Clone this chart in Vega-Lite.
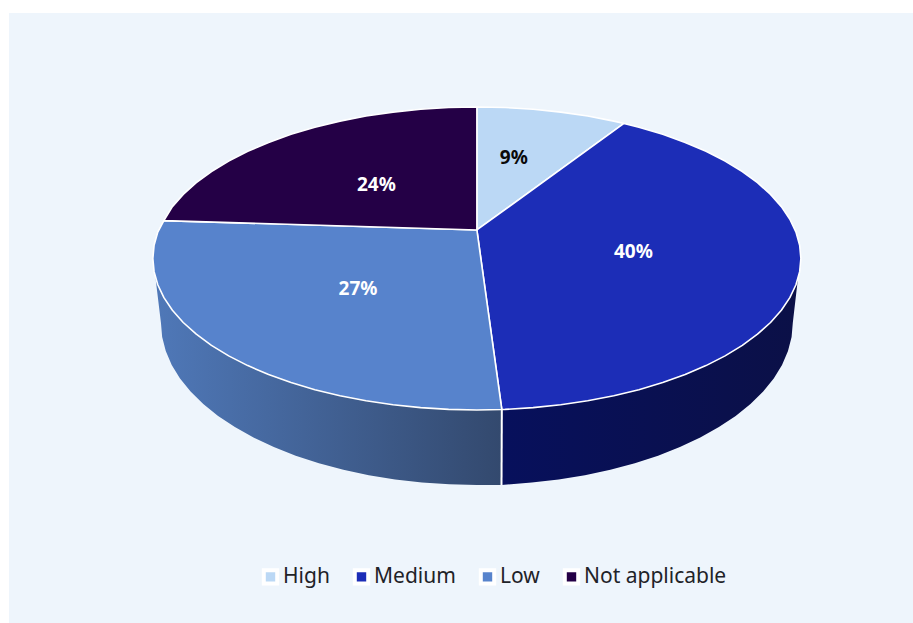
{
  "$schema": "https://vega.github.io/schema/vega-lite/v6.json",
  "width": 904,
  "height": 610,
  "autosize": "none",
  "padding": {"left": 9, "top": 13, "right": 0, "bottom": 0},
  "background": "#ffffff",
  "config": {"view": {"fill": "#eef5fc", "stroke": null}},
  "datasets": {
    "face": [
      {"slice":"High","seq":0,"x":0,"y":18.8},{"slice":"High","seq":1,"x":0,"y":100},{"slice":"High","seq":2,"x":8.72,"y":99.62},{"slice":"High","seq":3,"x":17.36,"y":98.48},{"slice":"High","seq":4,"x":25.88,"y":96.59},{"slice":"High","seq":5,"x":34.2,"y":93.97},{"slice":"High","seq":6,"x":42.26,"y":90.63},{"slice":"High","seq":7,"x":45.4,"y":89.1},{"slice":"High","seq":8,"x":0,"y":18.8},
      {"slice":"Medium","seq":0,"x":0,"y":18.8},{"slice":"Medium","seq":1,"x":45.4,"y":89.1},{"slice":"Medium","seq":2,"x":50,"y":86.6},{"slice":"Medium","seq":3,"x":57.36,"y":81.92},{"slice":"Medium","seq":4,"x":64.28,"y":76.6},{"slice":"Medium","seq":5,"x":70.71,"y":70.71},{"slice":"Medium","seq":6,"x":76.6,"y":64.28},{"slice":"Medium","seq":7,"x":81.92,"y":57.36},{"slice":"Medium","seq":8,"x":86.6,"y":50},{"slice":"Medium","seq":9,"x":90.63,"y":42.26},{"slice":"Medium","seq":10,"x":93.97,"y":34.2},{"slice":"Medium","seq":11,"x":96.59,"y":25.88},{"slice":"Medium","seq":12,"x":98.48,"y":17.36},{"slice":"Medium","seq":13,"x":99.62,"y":8.72},{"slice":"Medium","seq":14,"x":100,"y":0},{"slice":"Medium","seq":15,"x":99.62,"y":-8.72},{"slice":"Medium","seq":16,"x":98.48,"y":-17.36},{"slice":"Medium","seq":17,"x":96.59,"y":-25.88},{"slice":"Medium","seq":18,"x":93.97,"y":-34.2},{"slice":"Medium","seq":19,"x":90.63,"y":-42.26},{"slice":"Medium","seq":20,"x":86.6,"y":-50},{"slice":"Medium","seq":21,"x":81.92,"y":-57.36},{"slice":"Medium","seq":22,"x":76.6,"y":-64.28},{"slice":"Medium","seq":23,"x":70.71,"y":-70.71},{"slice":"Medium","seq":24,"x":64.28,"y":-76.6},{"slice":"Medium","seq":25,"x":57.36,"y":-81.92},{"slice":"Medium","seq":26,"x":50,"y":-86.6},{"slice":"Medium","seq":27,"x":42.26,"y":-90.63},{"slice":"Medium","seq":28,"x":34.2,"y":-93.97},{"slice":"Medium","seq":29,"x":25.88,"y":-96.59},{"slice":"Medium","seq":30,"x":17.36,"y":-98.48},{"slice":"Medium","seq":31,"x":8.72,"y":-99.62},{"slice":"Medium","seq":32,"x":7.7,"y":-99.7},{"slice":"Medium","seq":33,"x":0,"y":18.8},
      {"slice":"Low","seq":0,"x":0,"y":18.8},{"slice":"Low","seq":1,"x":7.7,"y":-99.7},{"slice":"Low","seq":2,"x":0,"y":-100},{"slice":"Low","seq":3,"x":-8.72,"y":-99.62},{"slice":"Low","seq":4,"x":-17.36,"y":-98.48},{"slice":"Low","seq":5,"x":-25.88,"y":-96.59},{"slice":"Low","seq":6,"x":-34.2,"y":-93.97},{"slice":"Low","seq":7,"x":-42.26,"y":-90.63},{"slice":"Low","seq":8,"x":-50,"y":-86.6},{"slice":"Low","seq":9,"x":-57.36,"y":-81.92},{"slice":"Low","seq":10,"x":-64.28,"y":-76.6},{"slice":"Low","seq":11,"x":-70.71,"y":-70.71},{"slice":"Low","seq":12,"x":-76.6,"y":-64.28},{"slice":"Low","seq":13,"x":-81.92,"y":-57.36},{"slice":"Low","seq":14,"x":-86.6,"y":-50},{"slice":"Low","seq":15,"x":-90.63,"y":-42.26},{"slice":"Low","seq":16,"x":-93.97,"y":-34.2},{"slice":"Low","seq":17,"x":-96.59,"y":-25.88},{"slice":"Low","seq":18,"x":-98.48,"y":-17.36},{"slice":"Low","seq":19,"x":-99.62,"y":-8.72},{"slice":"Low","seq":20,"x":-100,"y":0},{"slice":"Low","seq":21,"x":-99.62,"y":8.72},{"slice":"Low","seq":22,"x":-98.48,"y":17.36},{"slice":"Low","seq":23,"x":-96.6,"y":25},{"slice":"Low","seq":24,"x":0,"y":18.8},
      {"slice":"Not applicable","seq":0,"x":0,"y":18.8},{"slice":"Not applicable","seq":1,"x":-96.6,"y":25},{"slice":"Not applicable","seq":2,"x":-93.97,"y":34.2},{"slice":"Not applicable","seq":3,"x":-90.63,"y":42.26},{"slice":"Not applicable","seq":4,"x":-86.6,"y":50},{"slice":"Not applicable","seq":5,"x":-81.92,"y":57.36},{"slice":"Not applicable","seq":6,"x":-76.6,"y":64.28},{"slice":"Not applicable","seq":7,"x":-70.71,"y":70.71},{"slice":"Not applicable","seq":8,"x":-64.28,"y":76.6},{"slice":"Not applicable","seq":9,"x":-57.36,"y":81.92},{"slice":"Not applicable","seq":10,"x":-50,"y":86.6},{"slice":"Not applicable","seq":11,"x":-42.26,"y":90.63},{"slice":"Not applicable","seq":12,"x":-34.2,"y":93.97},{"slice":"Not applicable","seq":13,"x":-25.88,"y":96.59},{"slice":"Not applicable","seq":14,"x":-17.36,"y":98.48},{"slice":"Not applicable","seq":15,"x":-8.72,"y":99.62},{"slice":"Not applicable","seq":16,"x":0,"y":100},{"slice":"Not applicable","seq":17,"x":0,"y":18.8}
    ],
    "mediumWall": [
      {"seq":0,"x":99.07,"y":-13.6},{"seq":1,"x":96.59,"y":-25.88},{"seq":2,"x":90.63,"y":-42.26},{"seq":3,"x":81.92,"y":-57.36},{"seq":4,"x":70.71,"y":-70.71},{"seq":5,"x":57.36,"y":-81.92},{"seq":6,"x":42.26,"y":-90.63},{"seq":7,"x":25.88,"y":-96.59},{"seq":8,"x":7.7,"y":-99.7},{"seq":9,"x":7.6,"y":-149.5},{"seq":10,"x":16.93,"y":-147.9},{"seq":11,"x":25.23,"y":-145.9},{"seq":12,"x":33.35,"y":-143.1},{"seq":13,"x":41.2,"y":-139.5},{"seq":14,"x":48.75,"y":-135.2},{"seq":15,"x":55.92,"y":-130.2},{"seq":16,"x":62.67,"y":-124.5},{"seq":17,"x":68.94,"y":-118.2},{"seq":18,"x":74.69,"y":-111.3},{"seq":19,"x":79.87,"y":-103.9},{"seq":20,"x":84.44,"y":-96.05},{"seq":21,"x":88.36,"y":-87.8},{"seq":22,"x":91.62,"y":-79.16},{"seq":23,"x":94.18,"y":-70.27},{"seq":24,"x":96.02,"y":-61.16},{"seq":25,"x":97.13,"y":-51.92},{"seq":26,"x":97.5,"y":-42.6},{"seq":27,"x":99.07,"y":-13.6}
    ],
    "lowWall": [
      {"seq":0,"x":-99.2,"y":-12.6},{"seq":1,"x":-96.59,"y":-25.88},{"seq":2,"x":-90.63,"y":-42.26},{"seq":3,"x":-81.92,"y":-57.36},{"seq":4,"x":-70.71,"y":-70.71},{"seq":5,"x":-57.36,"y":-81.92},{"seq":6,"x":-42.26,"y":-90.63},{"seq":7,"x":-25.88,"y":-96.59},{"seq":8,"x":0,"y":-100},{"seq":9,"x":7.7,"y":-99.7},{"seq":10,"x":7.6,"y":-149.5},{"seq":11,"x":0,"y":-149.5},{"seq":12,"x":-8.5,"y":-149.1},{"seq":13,"x":-16.93,"y":-147.9},{"seq":14,"x":-25.23,"y":-145.9},{"seq":15,"x":-33.35,"y":-143.1},{"seq":16,"x":-41.2,"y":-139.5},{"seq":17,"x":-48.75,"y":-135.2},{"seq":18,"x":-55.92,"y":-130.2},{"seq":19,"x":-62.67,"y":-124.5},{"seq":20,"x":-68.94,"y":-118.2},{"seq":21,"x":-74.69,"y":-111.3},{"seq":22,"x":-79.87,"y":-103.9},{"seq":23,"x":-84.44,"y":-96.05},{"seq":24,"x":-88.36,"y":-87.8},{"seq":25,"x":-91.62,"y":-79.16},{"seq":26,"x":-94.18,"y":-70.27},{"seq":27,"x":-96.02,"y":-61.16},{"seq":28,"x":-97.13,"y":-51.92},{"seq":29,"x":-97.5,"y":-42.6},{"seq":30,"x":-99.2,"y":-12.6}
    ],
    "seam": [
      {"seq":0,"x":7.7,"y":-99.7},{"seq":1,"x":7.6,"y":-149.5}
    ],
    "labels": [
      {"slice":"High","share":0.09,"x":11.4,"y":66.5},
      {"slice":"Medium","share":0.40,"x":48.3,"y":4.4},
      {"slice":"Low","share":0.27,"x":-36.7,"y":-20},
      {"slice":"Not applicable","share":0.24,"x":-31.0,"y":48.7}
    ]
  },
  "encoding": {
    "x": {"field": "x", "type": "quantitative", "axis": null, "scale": {"domain": [-144.4, 134.6], "nice": false, "zero": false}},
    "y": {"field": "y", "type": "quantitative", "axis": null, "scale": {"domain": [-240.6, 162], "nice": false, "zero": false}},
    "order": {"field": "seq", "type": "quantitative"}
  },
  "layer": [
    {
      "data": {"name": "mediumWall"},
      "mark": {"type": "line", "strokeWidth": 0, "fill": {"gradient": "linear", "x1": 0, "x2": 1, "y1": 0, "y2": 0, "stops": [{"offset": 0, "color": "#07105c"}, {"offset": 1, "color": "#0b1047"}]}}
    },
    {
      "data": {"name": "lowWall"},
      "mark": {"type": "line", "strokeWidth": 0, "fill": {"gradient": "linear", "x1": 0, "x2": 1, "y1": 0, "y2": 0, "stops": [{"offset": 0, "color": "#4f78b8"}, {"offset": 1, "color": "#33496e"}]}}
    },
    {
      "data": {"name": "seam"},
      "mark": {"type": "line", "stroke": "#ffffff", "strokeWidth": 2}
    },
    {
      "data": {"name": "face"},
      "mark": {"type": "line", "stroke": "#ffffff", "strokeWidth": 1.6, "strokeJoin": "round"},
      "encoding": {
        "fill": {
          "field": "slice",
          "type": "nominal",
          "scale": {"domain": ["High", "Medium", "Low", "Not applicable"], "range": ["#bbd8f5", "#1c2db7", "#5783cc", "#240046"]},
          "legend": {
            "title": null,
            "orient": "none",
            "direction": "horizontal",
            "columns": 4,
            "legendX": 251,
            "legendY": 553,
            "symbolType": "square",
            "symbolSize": 180,
            "symbolStrokeColor": "#ffffff",
            "symbolStrokeWidth": 4,
            "symbolOpacity": 1,
            "labelFont": "Noto Sans",
            "labelFontSize": 21,
            "labelColor": "#1f2328",
            "labelOffset": 2,
            "columnPadding": 16,
            "symbolOffset": 0
          }
        },
        "detail": {"field": "slice"}
      }
    },
    {
      "data": {"name": "labels"},
      "mark": {"type": "text", "font": "Noto Sans", "fontSize": 19, "fontWeight": "bold", "align": "center", "baseline": "middle"},
      "encoding": {
        "text": {"field": "share", "type": "quantitative", "format": ".0%"},
        "color": {"condition": {"test": "datum.share < 0.1", "value": "#0a0a0a"}, "value": "#ffffff"},
        "order": {"value": null}
      }
    }
  ]
}
